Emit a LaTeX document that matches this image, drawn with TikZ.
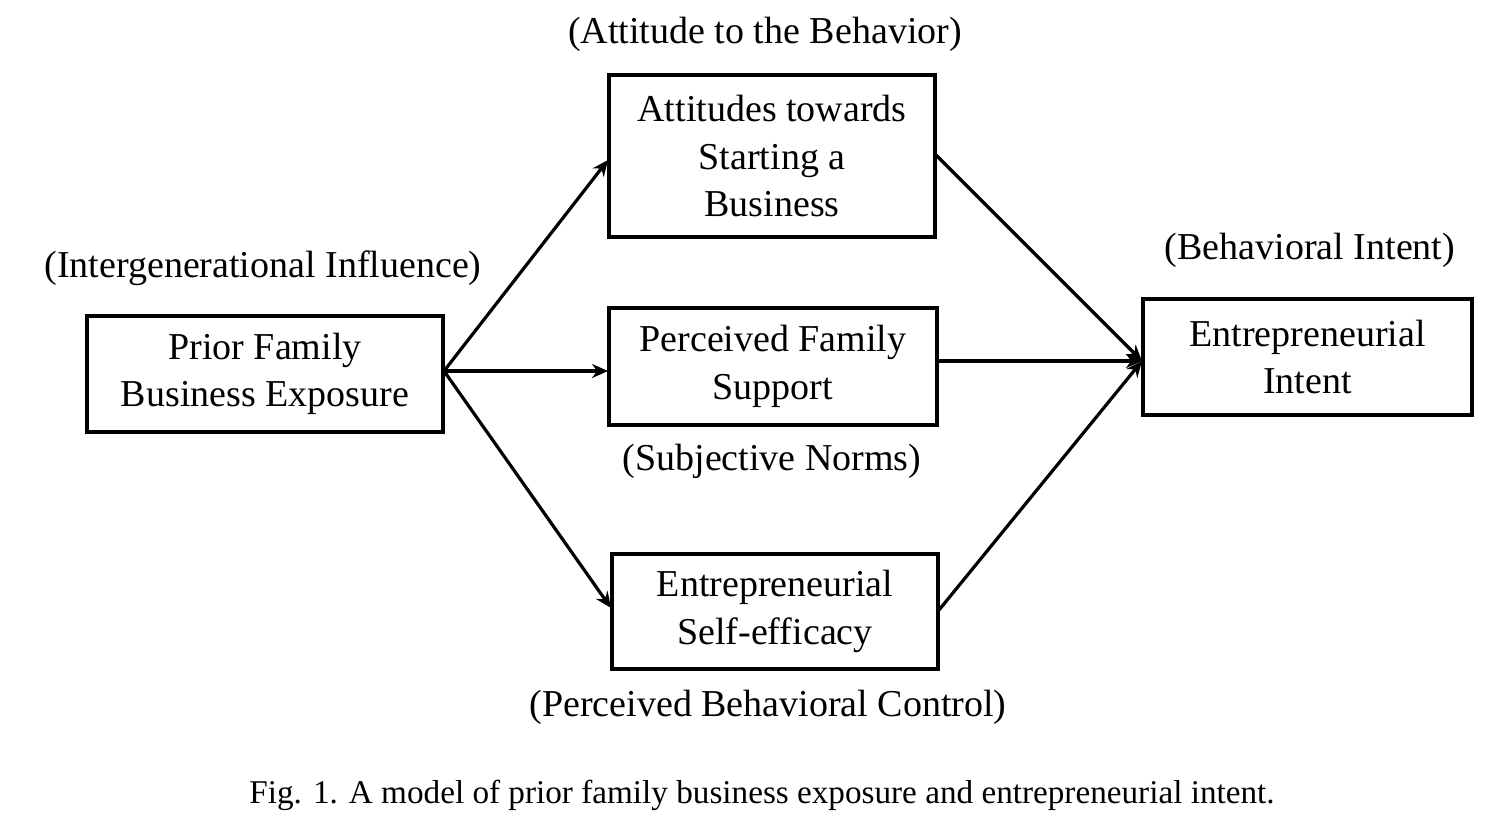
\documentclass[tikz,border=0pt]{standalone}
\usepackage{fontspec}
\setmainfont{Liberation Serif}
\usetikzlibrary{arrows.meta}
\begin{document}
\begin{tikzpicture}[x=0.5pt,y=-0.5pt,
  box/.style={draw,line width=2pt,align=center,inner sep=0pt,
    font=\fontsize{19}{23.75}\selectfont},
  lbl/.style={inner sep=0pt,font=\fontsize{19}{23.75}\selectfont},
  conn/.style={line width=1.6pt,-{Stealth[length=8pt,width=7pt]}}]
\useasboundingbox (0,0) rectangle (1509,830);
\node[box,minimum width=178pt,minimum height=58pt] (prior) at (265,374) {Prior Family\\Business Exposure};
\node[box,minimum width=163pt,minimum height=81pt] (att) at (772,156) {Attitudes towards\\Starting a\\Business};
\node[box,minimum width=164pt,minimum height=58.5pt] (sup) at (773,366.5) {Perceived Family\\Support};
\node[box,minimum width=163pt,minimum height=57.5pt] (eff) at (775,611.5) {Entrepreneurial\\Self-efficacy};
\node[box,minimum width=164.5pt,minimum height=58pt] (int) at (1307.5,357) {Entrepreneurial\\Intent};
\node[lbl] (l1) at (765,34) {(Attitude to the Behavior)};
\node[lbl] (l2) at (263,268) {(Intergenerational Influence)};
\node[lbl] (l3) at (1310,250) {(Behavioral Intent)};
\node[lbl] (l4) at (772,461) {(Subjective Norms)};
\node[lbl] (l5) at (768,707) {(Perceived Behavioral Control)};
\node[inner sep=0pt,font=\fontsize{16.6}{19}\selectfont] (cap) at (762,795) {Fig. 1. A model of prior family business exposure and entrepreneurial intent.};
\coordinate (src) at (444,371);
\coordinate (tatt) at (608,160);
\coordinate (tsup) at (608,371);
\coordinate (teff) at (611,608);
\coordinate (tint) at (1142,361);
\coordinate (satt) at (936,155);
\coordinate (ssup) at (938,361);
\coordinate (seff) at (939,610);
\draw[conn] (src) -- (tatt);
\draw[conn] (src) -- (tsup);
\draw[conn] (src) -- (teff);
\draw[conn] (satt) -- (tint);
\draw[conn] (ssup) -- (tint);
\draw[conn] (seff) -- (tint);
\end{tikzpicture}
\end{document}
